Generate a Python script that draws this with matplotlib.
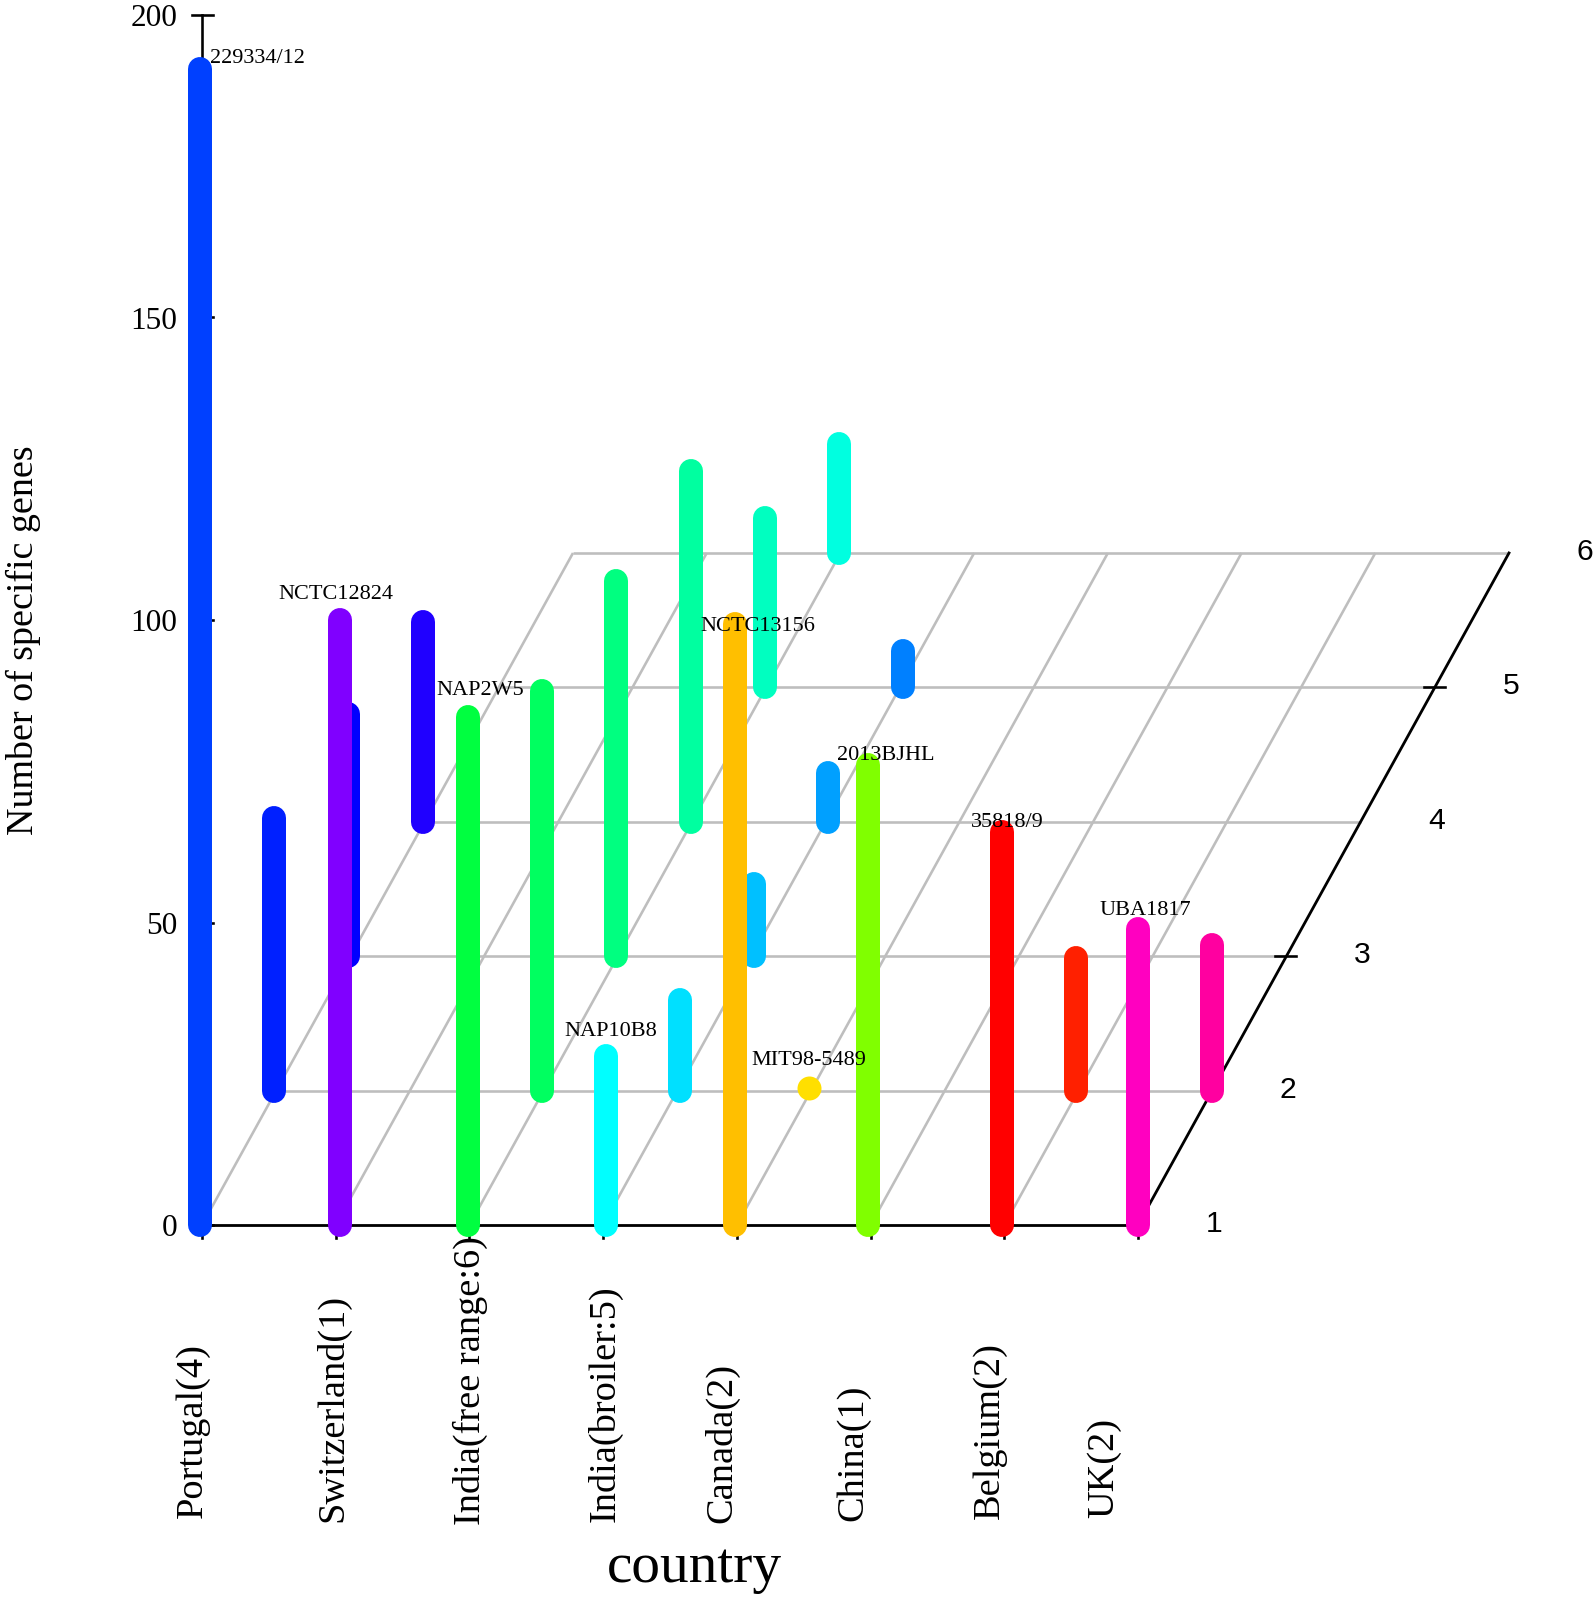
import matplotlib
matplotlib.use("Agg")
import matplotlib.pyplot as plt

# ---- data ----
countries = ["Portugal(4)", "Switzerland(1)", "India(free range:6)", "India(broiler:5)",
             "Canada(2)", "China(1)", "Belgium(2)", "UK(2)"]
country_pos = [0.985, 2.03, 2.99, 4.02, 4.985, 5.98, 6.98, 8.0]

portugal = [191, 45, 40, 33]
switzerland = [100]
india_free = [84, 66, 62, 58, 28, 18]
india_broiler = [28, 15, 12, 8, 6]
canada = [99.3, 0.4]
china = [76]
belgium = [65, 22]
uk = [49, 24]
series = [portugal, switzerland, india_free, india_broiler, canada, china, belgium, uk]

colors = [
    ["#0040FF", "#0020FF", "#0000FF", "#2000FF"],
    ["#8000FF"],
    ["#00FF40", "#00FF60", "#00FF80", "#00FFA0", "#00FFC0", "#00FFE0"],
    ["#00FFFF", "#00E0FF", "#00C0FF", "#00A0FF", "#0080FF"],
    ["#FFBF00", "#FFDF00"],
    ["#80FF00"],
    ["#FF0000", "#FF2000"],
    ["#FF00C0", "#FF00A0"],
]

# strain label: (country index, depth, text, x offset px, y offset px)
strains = [
    (0, 1, "229334/12", 57, -11),
    (1, 1, "NCTC12824", -4, -25),
    (2, 1, "NAP2W5", 12, -26),
    (3, 1, "NAP10B8", 5, -24),
    (4, 1, "NCTC13156", 23, 2),
    (4, 2, "MIT98-5489", 0, -28),
    (5, 1, "2013BJHL", 18, -10),
    (6, 1, "35818/9", 6, -9),
    (7, 1, "UBA1817", 7, -18),
]

z_ticks = [0, 50, 100, 150, 200]
depth_ticks = [1, 2, 3, 4, 5, 6]
n_x = 8

W, H = 1594, 1599
DPI = 100
PXX = 133.714     # pixels per country step
PXZ = 6.05        # pixels per gene
DX = 74.2 / PXX   # depth shift, in country units
DZ = 134.4 / PXZ  # depth shift, in gene units


def project(x, depth, z):
    return x + (depth - 1) * DX, z + (depth - 1) * DZ


def lw(px):
    return px * 72 / DPI


def fx(px):
    return px / W


def fy(py):
    return 1 - py / H


fig = plt.figure(figsize=(W / DPI, H / DPI), dpi=DPI, facecolor="white")
ax = fig.add_axes([0, 0, 1, 1])
ax.set_xlim(1 - 202 / PXX, 1 + (W - 202) / PXX)
ax.set_ylim(-(H - 1225) / PXZ, 1225 / PXZ)
ax.axis("off")

GRAY = "#BEBEBE"
# grid: floor lines along depth
for i in range(1, n_x + 1):
    x0, y0 = project(i, 1, 0)
    x1, y1 = project(i, 6, 0)
    if i < n_x:
        ax.plot([x0, x1], [y0, y1], color=GRAY, lw=lw(2.6), zorder=1, solid_capstyle="butt")
# grid: floor lines along country
for d in depth_ticks[1:]:
    x0, y0 = project(1, d, 0)
    x1, y1 = project(n_x, d, 0)
    ax.plot([x0, x1], [y0, y1], color=GRAY, lw=lw(2.6), zorder=1, solid_capstyle="butt")

# axes
ax.plot([1, n_x], [0, 0], color="black", lw=lw(2.8), zorder=2)
x0, y0 = project(n_x, 1, 0)
x1, y1 = project(n_x, 6, 0)
ax.plot([x0, x1], [y0, y1], color="black", lw=lw(2.8), zorder=2)
ax.plot([1, 1], [0, 200], color="black", lw=lw(2.6), zorder=2)

# ticks
for z in z_ticks:
    ax.plot([1 - 10 / PXX, 1 + 11 / PXX], [z, z], color="black", lw=lw(2.6), zorder=2)
    ax.annotate(str(z), (1, z), xytext=(-25, -4), textcoords="offset pixels",
                ha="right", va="center", fontsize=22.5,
                family="Liberation Serif", color="black")
for i in range(1, n_x + 1):
    ax.plot([i, i], [0, -13 / PXZ], color="black", lw=lw(2.6), zorder=2)
for d in depth_ticks:
    tx, tz = project(n_x, d, 0)
    if d in (3, 5):
        ax.plot([tx - 11 / PXX, tx + 10 / PXX], [tz, tz], color="black", lw=lw(2.6), zorder=2)
    ax.annotate(str(d), (tx, tz), xytext=(76, 1), textcoords="offset pixels",
                ha="center", va="center", fontsize=21.7,
                family="Liberation Sans", color="black")

# bars, back to front
items = []
for i, vals in enumerate(series):
    for j, v in enumerate(vals):
        items.append((j + 1, i, v, colors[i][j]))
for depth, i, v, col in sorted(items, key=lambda t: (-t[0], t[1])):
    x0, y0 = project(country_pos[i], depth, 0)
    x1, y1 = project(country_pos[i], depth, v)
    z = 3 + (6 - depth) * 0.1 + i * 0.01
    if v < 1:   # a strain with almost no specific genes shows as a single dot
        ax.plot([x1], [y1], marker="o", color=col, markersize=lw(24),
                markeredgewidth=0, linestyle="none", zorder=z)
    else:
        ax.plot([x0, x1], [y0, y1], color=col, lw=lw(24), solid_capstyle="round", zorder=z)

# strain labels
for i, depth, txt, ox, oy in strains:
    x1, y1 = project(country_pos[i], depth, series[i][depth - 1])
    ax.annotate(txt, (x1, y1), xytext=(ox, -oy), textcoords="offset pixels",
                ha="center", va="center", fontsize=16,
                family="Liberation Serif", color="black", zorder=6)

# country labels
label_x = [193, 333, 470, 605, 722, 853, 990, 1104]
label_bottom = [1518, 1522, 1525, 1522, 1523, 1521, 1519, 1518]
for name, lx, lb in zip(countries, label_x, label_bottom):
    fig.text(fx(lx), fy(lb), name, rotation=90, ha="center", va="bottom",
             fontsize=27.6, family="Liberation Serif", color="black")

fig.text(fx(694), fy(1582), "country", ha="center", va="baseline",
         fontsize=41.3, family="Liberation Serif", color="black")
fig.text(fx(23), fy(640), "Number of specific genes", rotation=90, ha="center", va="center",
         fontsize=27.4, family="Liberation Serif", color="black")

fig.savefig("out.png", dpi=DPI, facecolor="white")
